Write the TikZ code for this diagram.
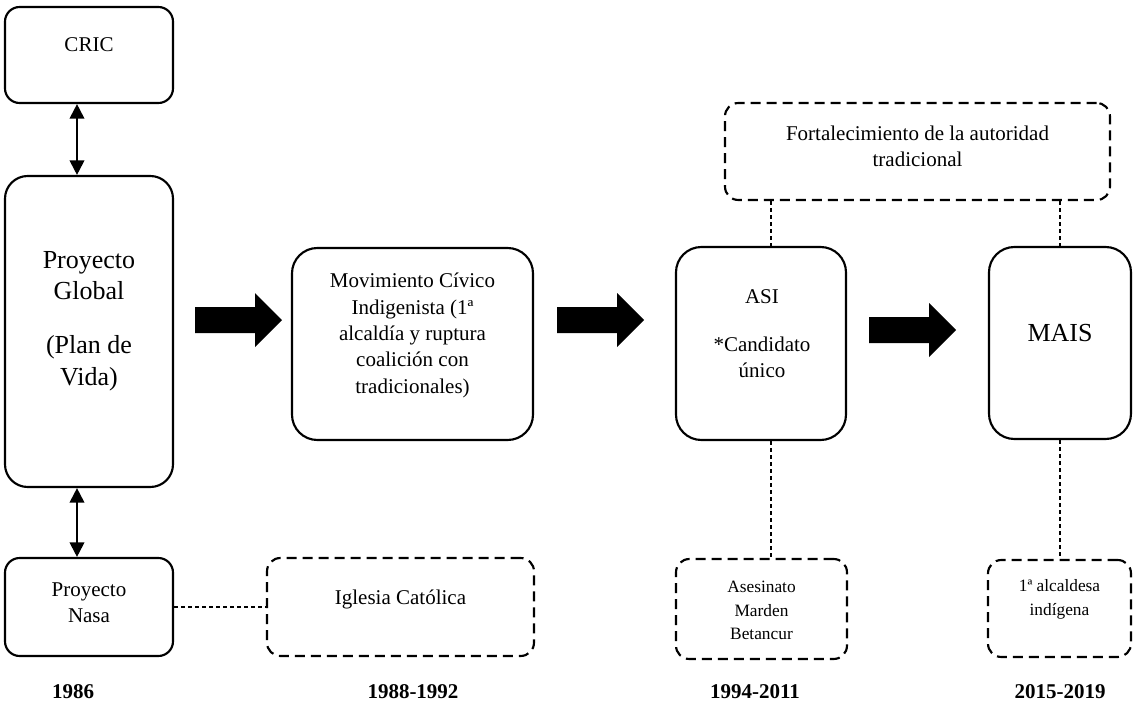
\documentclass[tikz,border=0pt]{standalone}
\usepackage{fontspec}
\setmainfont{Liberation Serif}
\usetikzlibrary{arrows.meta}
\begin{document}
\begin{tikzpicture}[x=0.75pt,y=-0.75pt,
  sz/.style 2 args={minimum width=#1*0.75pt, minimum height=#2*0.75pt},
  box/.style={draw, line width=1.6pt, rounded corners=#1, inner sep=0pt},
  box/.default=12pt,
  dbox/.style={draw, line width=1.6pt, rounded corners=#1, inner sep=0pt, dash pattern=on 7.5pt off 4.5pt},
  dbox/.default=10pt,
  txt/.style={font=\fontsize{15.75pt}{19.75pt}\selectfont, align=center, inner sep=0pt},
  bigt/.style={font=\fontsize{19.5pt}{23.5pt}\selectfont, align=center, inner sep=0pt},
  smt/.style={font=\fontsize{13pt}{17.5pt}\selectfont, align=center, inner sep=0pt},
  yr/.style={font=\fontsize{15.75pt}{19pt}\selectfont\bfseries, inner sep=0pt},
  dbl/.style={{Triangle[length=11pt,width=11pt]}-{Triangle[length=11pt,width=11pt]}, line width=1.5pt},
  conn/.style={line width=0.8pt, dash pattern=on 3pt off 2.25pt},
  barrow/.pic={\fill (-43.5,-13) -- (16.5,-13) -- (16.5,-27) -- (43.5,0) -- (16.5,27) -- (16.5,13) -- (-43.5,13) -- cycle;}
]
\useasboundingbox (0,0) rectangle (1133,707);

% left column
\node[box=11pt, sz={168}{96}] (cric) at (89,55) {};
\node[txt] (crict) at (89,45) {CRIC};
\node[box=17pt, sz={168}{311}] (glob) at (89,331.5) {};
\node[bigt] (globt) at (89,321) {Proyecto\\Global\\[17pt](Plan de\\Vida)};
\node[box=11pt, sz={168}{98}] (nasa) at (89,607) {};
\node[txt] (nasat) at (89,602.5) {Proyecto\\Nasa};
\node[dbox, sz={267}{98}] (igl) at (400.5,607) {};
\node[txt] (iglt) at (400.5,599) {Iglesia Católica};

% middle
\node[box=19pt, sz={241}{192}] (mov) at (412.5,344) {};
\node[txt] (movt) at (412.5,335.5) {Movimiento Cívico\\Indigenista (1ª\\alcaldía y ruptura\\coalición con\\tradicionales)};

\node[box=19pt, sz={170}{193}] (asi) at (761,343.5) {};
\node[txt] (asit) at (762,297) {ASI};
\node[txt] (cand) at (762,357.5) {*Candidato\\único};

\node[box=19pt, sz={142}{192}] (mais) at (1060,343) {};
\node[bigt] (maist) at (1060,333) {MAIS};

\node[dbox, sz={385}{97}] (fort) at (917.5,151.5) {};
\node[txt] (fortt) at (917.5,146.5) {Fortalecimiento de la autoridad\\tradicional};

\node[dbox, sz={171}{100}] (ases) at (761.5,609) {};
\node[smt] (asest) at (761.5,610.5) {Asesinato\\Marden\\Betancur};
\node[dbox, sz={143}{97}] (alc) at (1059.5,608.5) {};
\node[smt] (alct) at (1059.5,599.5) {1ª alcaldesa\\indígena};

% years
\node[yr] (y1) at (73,692) {1986};
\node[yr] (y2) at (413,692) {1988-1992};
\node[yr] (y3) at (755,692) {1994-2011};
\node[yr] (y4) at (1060,692) {2015-2019};

% connectors
\coordinate (lx) at (77,0);
\coordinate (ax) at (771,0);
\draw[dbl] (cric.south -| lx) -- (glob.north -| lx);
\draw[dbl] (glob.south -| lx) -- (nasa.north -| lx);
\draw[conn] (nasa.east) -- (nasa.east -| igl.west);
\draw[conn] (fort.south -| ax) -- (asi.north -| ax);
\draw[conn] (asi.south -| ax) -- (ases.north -| ax);
\draw[conn] (fort.south -| mais.north) -- (mais.north);
\draw[conn] (mais.south) -- (alc.north -| mais.south);

% block arrows
\pic at (238.5,320) {barrow};
\pic at (600.5,320) {barrow};
\pic at (912.5,330) {barrow};
\end{tikzpicture}
\end{document}
